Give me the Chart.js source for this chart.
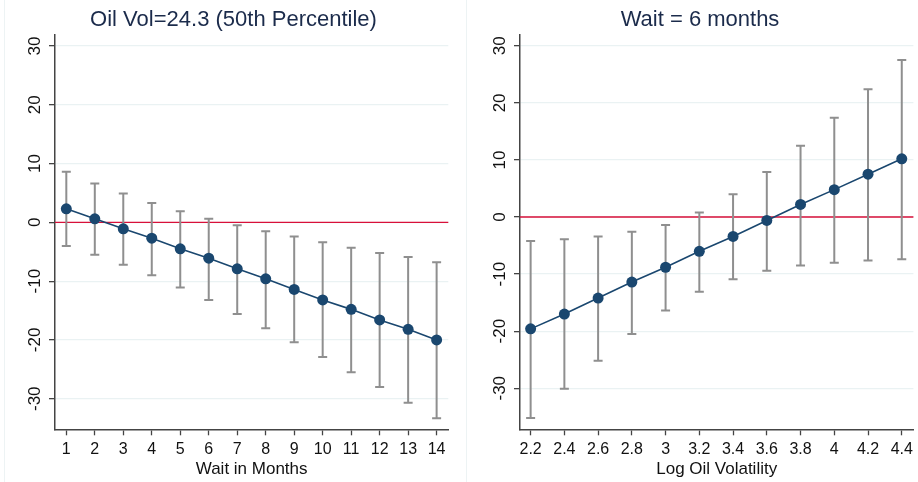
<!DOCTYPE html>
<html>
<head>
<meta charset="utf-8">
<script src="https://cdn.jsdelivr.net/npm/chart.js@4.4.1/dist/chart.umd.min.js"></script>
<style>
  html, body { margin: 0; padding: 0; background: #ffffff; }
  #wrap { position: relative; width: 918px; height: 482px; overflow: hidden; background: #fff; }
  canvas { position: absolute; top: 0; }
  #left { left: 0; }
  #right { left: 459px; }
  .frame { position: absolute; top: 0; width: 1px; height: 482px; background: #edf3f4; }
</style>
</head>
<body>
<div id="wrap">
  <div class="frame" style="left:4px"></div>
  <div class="frame" style="left:466px"></div>
  <canvas id="left" width="459" height="482"></canvas>
  <canvas id="right" width="459" height="482"></canvas>
</div>
<script>
// Marginal effect estimates with 95% confidence bands

// Panel 1: effect by waiting time, oil volatility held at its median
const waitMonths = [1, 2, 3, 4, 5, 6, 7, 8, 9, 10, 11, 12, 13, 14];
const waitEffect = [2.3, 0.6, -1.1, -2.7, -4.5, -6.1, -7.9, -9.6, -11.4, -13.2, -14.8, -16.6, -18.2, -20.0];
const waitLower  = [-4.0, -5.5, -7.2, -9.0, -11.1, -13.2, -15.6, -18.0, -20.4, -22.9, -25.5, -28.0, -30.7, -33.3];
const waitUpper  = [8.6, 6.6, 4.9, 3.3, 1.9, 0.6, -0.5, -1.5, -2.4, -3.4, -4.3, -5.2, -5.9, -6.8];

// Panel 2: effect by log oil volatility, wait fixed at 6 months
const logVol    = [2.2, 2.4, 2.6, 2.8, 3.0, 3.2, 3.4, 3.6, 3.8, 4.0, 4.2, 4.4];
const volEffect = [-19.6, -17.0, -14.2, -11.4, -8.8, -6.0, -3.4, -0.6, 2.2, 4.8, 7.5, 10.2];
const volLower  = [-35.2, -30.1, -25.2, -20.5, -16.4, -13.1, -10.9, -9.4, -8.5, -8.0, -7.6, -7.4];
const volUpper  = [-4.2, -3.9, -3.4, -2.6, -1.4, 0.8, 4.0, 7.9, 12.5, 17.4, 22.4, 27.5];

// Axis ticks
const yTickValues = [-30, -20, -10, 0, 10, 20, 30];
const waitTickLabels = ['1','2','3','4','5','6','7','8','9','10','11','12','13','14'];
const volTickLabels = ['2.2','2.4','2.6','2.8','3','3.2','3.4','3.6','3.8','4','4.2','4.4'];

const titles = ['Oil Vol=24.3 (50th Percentile)', 'Wait = 6 months'];
const xTitles = ['Wait in Months', 'Log Oil Volatility'];

const NAVY = '#1a476f';
const FONT = '"Liberation Sans", Arial, Helvetica, sans-serif';

// Draws the zero reference line, CI whiskers, rotated y labels and the panel title
const panelDecor = {
  id: 'panelDecor',
  beforeDatasetsDraw(chart, args, opts) {
    const ctx = chart.ctx, xs = chart.scales.x, ys = chart.scales.y, area = chart.chartArea;
    ctx.save();
    // zero line
    const y0 = ys.getPixelForValue(0);
    ctx.strokeStyle = '#d8103a';
    ctx.lineWidth = 1.4;
    ctx.beginPath();
    ctx.moveTo(area.left, y0);
    ctx.lineTo(area.right, y0);
    ctx.stroke();
    // confidence intervals
    ctx.strokeStyle = '#8f8f8f';
    ctx.lineWidth = 2;
    opts.xs.forEach((xv, i) => {
      const px = xs.getPixelForValue(xv);
      const lo = ys.getPixelForValue(opts.lower[i]);
      const hi = ys.getPixelForValue(opts.upper[i]);
      ctx.beginPath();
      ctx.moveTo(px, lo); ctx.lineTo(px, hi);
      ctx.moveTo(px - 4.5, lo); ctx.lineTo(px + 4.5, lo);
      ctx.moveTo(px - 4.5, hi); ctx.lineTo(px + 4.5, hi);
      ctx.stroke();
    });
    ctx.restore();
  },
  afterDraw(chart, args, opts) {
    const ctx = chart.ctx, ys = chart.scales.y, area = chart.chartArea;
    ctx.save();
    // vertical y tick labels
    ctx.fillStyle = '#111';
    ctx.font = '17px ' + FONT;
    ctx.textAlign = 'center';
    ctx.textBaseline = 'middle';
    ys.ticks.forEach(t => {
      ctx.save();
      ctx.translate(area.left - 19.5, ys.getPixelForValue(t.value));
      ctx.rotate(-Math.PI / 2);
      ctx.fillText(String(t.value), 0, 0);
      ctx.restore();
    });
    // panel title
    ctx.fillStyle = '#1b2b4b';
    ctx.font = '22px ' + FONT;
    ctx.textAlign = 'center';
    ctx.textBaseline = 'middle';
    ctx.fillText(opts.title, opts.titleX, 20);
    ctx.restore();
  }
};

function makePanel(id, idx, xVals, est, lower, upper, xLabels, xMin, xMax, yMin, yMax, padLeft, padRight, titleX) {
  const points = xVals.map((x, i) => ({ x: x, y: est[i] }));
  return new Chart(document.getElementById(id), {
    type: 'line',
    data: {
      datasets: [{
        data: points,
        borderColor: NAVY,
        borderWidth: 1.6,
        pointRadius: 5.5,
        pointHoverRadius: 5.5,
        pointBackgroundColor: NAVY,
        pointBorderWidth: 0,
        tension: 0,
        fill: false
      }]
    },
    plugins: [panelDecor],
    options: {
      responsive: false,
      animation: false,
      devicePixelRatio: 1,
      layout: { autoPadding: false, padding: { left: padLeft, right: padRight, top: 35, bottom: 0 } },
      plugins: {
        legend: { display: false },
        tooltip: { enabled: false },
        title: { display: false },
        panelDecor: { xs: xVals, lower: lower, upper: upper, title: titles[idx], titleX: titleX }
      },
      scales: {
        x: {
          type: 'linear',
          min: xMin, max: xMax,
          afterBuildTicks: s => { s.ticks = xVals.map(v => ({ value: v })); },
          afterFit: s => { s.height = 52.7; },
          ticks: {
            autoSkip: false, maxRotation: 0, minRotation: 0,
            color: '#111', padding: 5,
            font: { family: FONT, size: 16 },
            callback: (v, i) => xLabels[i]
          },
          grid: { drawOnChartArea: false, drawTicks: true, tickLength: 6, tickColor: '#444', tickWidth: 1.3 },
          border: { display: true, color: '#444', width: 1.5 },
          title: {
            display: true, text: xTitles[idx], color: '#111',
            font: { family: FONT, size: 17 }, padding: { top: 2, bottom: 2 }
          }
        },
        y: {
          type: 'linear',
          min: yMin, max: yMax,
          afterBuildTicks: s => { s.ticks = yTickValues.map(v => ({ value: v })); },
          afterFit: s => { s.width = 55; },
          ticks: { display: false },
          grid: { color: '#eaf2f3', lineWidth: 1.3, drawTicks: true, tickLength: 6, tickColor: '#444', tickWidth: 1.3 },
          border: { display: true, color: '#444', width: 1.5 }
        }
      }
    }
  });
}

makePanel('left', 0, waitMonths, waitEffect, waitLower, waitUpper, waitTickLabels,
  0.603, 14.41, -35.2, 31.87, 0, 10.7, 233.5);
makePanel('right', 1, logVol, volEffect, volLower, volUpper, volTickLabels,
  2.137, 4.469, -37.2, 31.9, 6, 4, 241);
</script>
</body>
</html>
